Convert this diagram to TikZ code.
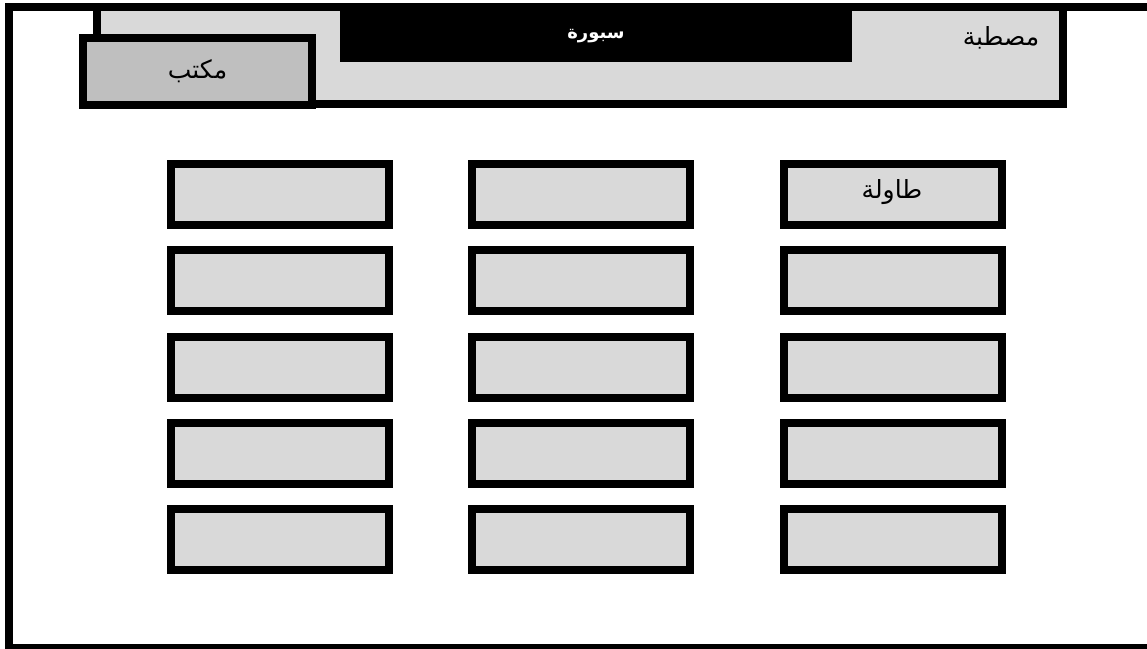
\documentclass[tikz,border=0pt]{standalone}
\usepackage{fontspec}
\usepackage{tikz}
\usetikzlibrary{shapes,positioning}
\TeXXeTstate=1
\newfontfamily\arabicfont[Script=Arabic]{DejaVu Sans}
\definecolor{roomgray}{HTML}{D9D9D9}
\definecolor{deskgray}{HTML}{BFBFBF}
\tikzset{
    furniture/.style={draw=black, line width=8pt, fill=roomgray, inner sep=0pt},
    tablebox/.style={furniture, minimum width=218pt, minimum height=61pt},
    arlabel/.style={inner sep=0pt, font=\arabicfont\fontsize{25}{29}\selectfont}
}

\begin{document}
\begin{tikzpicture}[x=1pt, y=-1pt]
    \useasboundingbox (0,0) rectangle (1147,648);
    \draw[line width=8pt] (9,6.5) rectangle (1150.5,647.5);

    % counter, board and desk along the front wall
    \node[furniture, minimum width=966pt, minimum height=97.5pt] (counter) at (579.5,55.25) {};
    \node[fill=black, inner sep=0pt, minimum width=512pt, minimum height=59pt] (board) at (596,32.5) {};
    \node[text=white, inner sep=0pt, font=\arabicfont\bfseries\fontsize{18}{21}\selectfont] (boardlbl) at (596,36) {\beginR سبورة\endR};
    \node[furniture, fill=deskgray, minimum width=229pt, minimum height=67.5pt] (desk) at (197.5,71.25) {};
    \node[arlabel] (desklbl) at (197.5,71) {\beginR مكتب\endR};
    \node[arlabel] (counterlbl) at (1001,38) {\beginR مصطبة\endR};

    % tables
    \node[tablebox] (t11) at (280,194.5) {};
    \node[tablebox] (t12) at (581,194.5) {};
    \node[tablebox] (t13) at (892.5,194.5) {};
    \node[tablebox] (t21) at (280,280.75) {};
    \node[tablebox] (t22) at (581,280.75) {};
    \node[tablebox] (t23) at (892.5,280.75) {};
    \node[tablebox] (t31) at (280,367) {};
    \node[tablebox] (t32) at (581,367) {};
    \node[tablebox] (t33) at (892.5,367) {};
    \node[tablebox] (t41) at (280,453.25) {};
    \node[tablebox] (t42) at (581,453.25) {};
    \node[tablebox] (t43) at (892.5,453.25) {};
    \node[tablebox] (t51) at (280,539.5) {};
    \node[tablebox] (t52) at (581,539.5) {};
    \node[tablebox] (t53) at (892.5,539.5) {};
    \node[arlabel] (tablelbl) at (892,192) {\beginR طاولة\endR};
\end{tikzpicture}
\end{document}
